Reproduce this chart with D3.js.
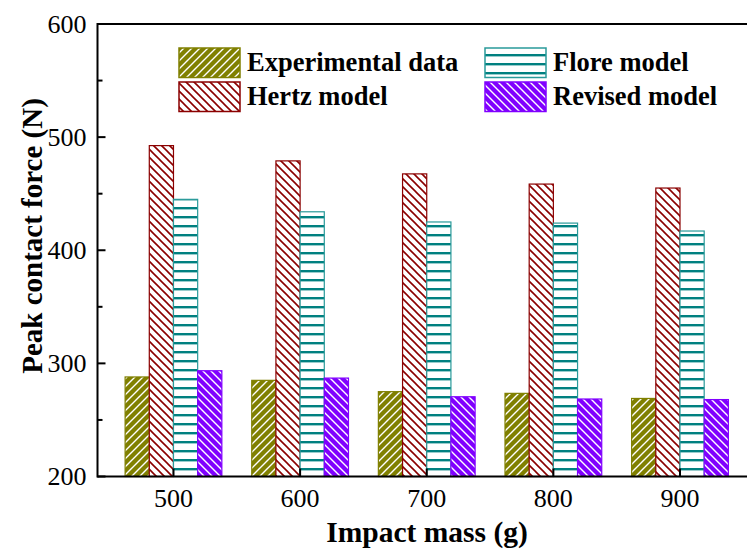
<!DOCTYPE html>
<html>
<head>
<meta charset="utf-8">
<script src="https://cdn.jsdelivr.net/npm/d3@7"></script>
<style>
  html, body { margin: 0; padding: 0; background: #fff; }
  svg { display: block; }
</style>
</head>
<body>
<svg id="chart" width="747" height="552"></svg>
<script>
// Impact masses (g) on the x axis
const masses = [500, 600, 700, 800, 900];

// Peak contact force (N) for each model / measurement
const seriesNames = ["Experimental data", "Hertz model", "Flore model", "Revised model"];
const experimental = [288, 285, 275, 273.5, 269];
const hertz = [492.5, 479, 467.5, 458.5, 455];
const flore = [445, 434, 425, 424, 417];
const revised = [293.5, 287, 270.5, 268.5, 268];

const yTicks = [200, 300, 400, 500, 600];
const yMinorTicks = [250, 350, 450, 550];

const seriesValues = [experimental, hertz, flore, revised];

const FONT = "Liberation Serif";
const W = 747, H = 552;
const svg = d3.select("#chart");

const x = d3.scaleLinear().domain([440, 900]).range([97.5, 680]);
const y = d3.scaleLinear().domain([200, 600]).range([476.5, 24]);

// offsets of the four bars inside a group, in grams
const inner = d3.scaleBand().domain(seriesNames).range([-38.2, 38.2]).padding(0);

// fill patterns
const defs = svg.append("defs");
function diag(id, bg, fg, dir, sw) {
  const p = defs.append("pattern").attr("id", id)
    .attr("patternUnits", "userSpaceOnUse").attr("width", 8).attr("height", 8);
  p.append("rect").attr("width", 8).attr("height", 8).attr("fill", bg);
  const d = dir === "/"
    ? "M-2,2 L2,-2 M0,8 L8,0 M6,10 L10,6"
    : "M-2,6 L2,10 M0,0 L8,8 M6,-2 L10,2";
  p.append("path").attr("d", d).attr("stroke", fg).attr("stroke-width", sw);
}
diag("pExp", "#808000", "#ffffff", "/", 1.4);
diag("pHertz", "#ffffff", "#8b0000", "\\", 1.6);
diag("pRev", "#8000ff", "#ffffff", "\\", 1.4);
{
  const p = defs.append("pattern").attr("id", "pFlore")
    .attr("patternUnits", "userSpaceOnUse").attr("width", 8).attr("height", 9);
  p.append("rect").attr("width", 8).attr("height", 9).attr("fill", "#ffffff");
  p.append("rect").attr("y", 0).attr("width", 8).attr("height", 2.4).attr("fill", "#008080");
}

const fills = ["url(#pExp)", "url(#pHertz)", "url(#pFlore)", "url(#pRev)"];
const strokes = ["#808000", "#8b0000", "#2a9a9a", "#8000ff"];

// bars
const g = svg.append("g");
seriesNames.forEach((name, si) => {
  g.selectAll(null).data(masses.map((m, i) => ({ m, v: seriesValues[si][i] })))
    .enter().append("rect")
    .attr("x", d => x(d.m + inner(name)))
    .attr("width", d => x(d.m + inner(name) + inner.bandwidth()) - x(d.m + inner(name)))
    .attr("y", d => y(d.v))
    .attr("height", d => y(200) - y(d.v))
    .attr("fill", fills[si])
    .attr("stroke", strokes[si])
    .attr("stroke-width", 1.2);
});

// frame lines (left, bottom, top)
const axisColor = "#000";
svg.append("line").attr("x1", x(440)).attr("x2", W).attr("y1", y(200)).attr("y2", y(200))
  .attr("stroke", axisColor).attr("stroke-width", 2);
svg.append("line").attr("x1", x(440)).attr("x2", W).attr("y1", y(600)).attr("y2", y(600))
  .attr("stroke", axisColor).attr("stroke-width", 2);
svg.append("line").attr("x1", x(440)).attr("x2", x(440)).attr("y1", y(200) + 1).attr("y2", y(600) - 1)
  .attr("stroke", axisColor).attr("stroke-width", 2);

// y ticks (inward)
svg.selectAll(null).data(yTicks).enter().append("line")
  .attr("x1", x(440)).attr("x2", x(440) + 8)
  .attr("y1", d => y(d)).attr("y2", d => y(d))
  .attr("stroke", axisColor).attr("stroke-width", 2);
svg.selectAll(null).data(yMinorTicks).enter().append("line")
  .attr("x1", x(440)).attr("x2", x(440) + 5)
  .attr("y1", d => y(d)).attr("y2", d => y(d))
  .attr("stroke", axisColor).attr("stroke-width", 2);
svg.selectAll(null).data(yTicks).enter().append("text")
  .attr("x", x(440) - 11).attr("y", d => y(d) + 8.5)
  .attr("text-anchor", "end").attr("font-size", 26)
  .style("font-family", FONT)
  .text(d => d);

// x ticks (inward)
svg.selectAll(null).data(masses).enter().append("line")
  .attr("x1", d => x(d)).attr("x2", d => x(d))
  .attr("y1", y(200)).attr("y2", y(200) - 8)
  .attr("stroke", axisColor).attr("stroke-width", 2);
svg.selectAll(null).data(masses).enter().append("text")
  .attr("x", d => x(d)).attr("y", 507)
  .attr("text-anchor", "middle").attr("font-size", 26)
  .style("font-family", FONT)
  .text(d => d);

// axis titles
svg.append("text").attr("x", 427).attr("y", 542)
  .attr("text-anchor", "middle").attr("font-size", 29.5).attr("font-weight", "bold")
  .style("font-family", FONT)
  .text("Impact mass (g)");
svg.append("text")
  .attr("transform", "translate(42,236) rotate(-90)")
  .attr("text-anchor", "middle").attr("font-size", 29).attr("font-weight", "bold")
  .style("font-family", FONT)
  .text("Peak contact force (N)");

// legend: two columns, two rows
const legendPos = [
  { x: 179, y: 48 }, { x: 179, y: 82 },
  { x: 485, y: 48 }, { x: 485, y: 82 }
];
const lg = svg.append("g");
seriesNames.forEach((name, si) => {
  const p = legendPos[si];
  lg.append("rect").attr("x", p.x).attr("y", p.y).attr("width", 61).attr("height", 29.5)
    .attr("fill", fills[si]).attr("stroke", strokes[si]).attr("stroke-width", 1.5);
  lg.append("text").attr("x", p.x + 68).attr("y", p.y + 23)
    .attr("font-size", 26.5).attr("font-weight", "bold")
    .style("font-family", FONT)
    .text(name);
});
</script>
</body>
</html>
